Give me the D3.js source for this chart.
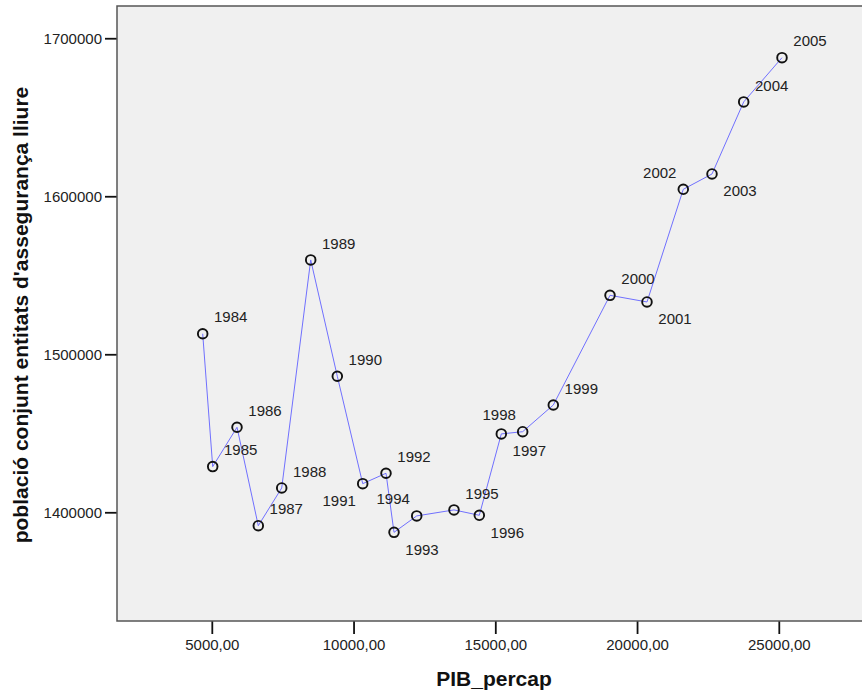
<!DOCTYPE html>
<html><head><meta charset="utf-8">
<script src="https://d3js.org/d3.v7.min.js"></script>
<style>
body{margin:0;background:#fff}
svg{display:block}
text{font-family:"Liberation Sans",Arial,sans-serif}
</style>
</head><body>
<svg id="chart" width="862" height="692"></svg>
<script>
// ---- data ----
const years = [1984,1985,1986,1987,1988,1989,1990,1991,1992,1993,1994,1995,1996,1997,1998,1999,2000,2001,2002,2003,2004,2005];
const pibPercap = [4679,5032,5889,6640,7466,8489,9427,10323,11145,11427,12228,13543,14436,15212,15966,17046,19046,20351,21631,22644,23762,25113];
const poblacio = [1513000,1428900,1453800,1391500,1415400,1559700,1486100,1418100,1424700,1387300,1397700,1401500,1398100,1449600,1451000,1467900,1537300,1533100,1604400,1614100,1659700,1687700];
const labelPlacement = ["NE","NE","NE","NE","NE","NE","NE","SW","NE","SE","NW","NE","SE","SE","NW","NE","NE","SE","NW","SE","NE","NE"];
const xTicks = [5000,10000,15000,20000,25000];
const yTicks = [1400000,1500000,1600000,1700000];
const xTitle = "PIB_percap";
const yTitle = "població conjunt entitats d'assegurança lliure";

// ---- layout ----
const W = 862, H = 692;
const plot = {left:117, top:6, right:862, bottom:621};
const svg = d3.select("#chart");

const x = d3.scaleLinear().domain([1656, 27935]).range([plot.left, plot.right]);
const y = d3.scaleLinear().domain([1331200, 1720400]).range([plot.bottom, plot.top]);

// plot background
svg.append("rect")
  .attr("x", plot.left).attr("y", plot.top)
  .attr("width", plot.right - plot.left).attr("height", plot.bottom - plot.top)
  .attr("fill", "#f0f0f0");

// axes
const fmt = d => d3.format(".2f")(d).replace(".", ",");
const xAxis = svg.append("g").attr("transform", `translate(0,${plot.bottom})`)
  .call(d3.axisBottom(x).tickValues(xTicks).tickFormat(fmt).tickSize(13).tickSizeOuter(0).tickPadding(5));
const yAxis = svg.append("g").attr("transform", `translate(${plot.left},0)`)
  .call(d3.axisLeft(y).tickValues(yTicks).tickFormat(d3.format("d")).tickSize(12).tickSizeOuter(0).tickPadding(3));
[xAxis, yAxis].forEach(a => {
  a.select(".domain").remove();
  a.selectAll(".tick line").attr("stroke", "#111").attr("stroke-width", 1.8);
  a.selectAll(".tick text").attr("fill", "#222").style("font-size", "15px")
    .style("font-family", '"Liberation Sans",Arial,sans-serif');
});

// plot border (left, top, bottom)
svg.append("path")
  .attr("d", `M${plot.right},${plot.top}H${plot.left}V${plot.bottom}H${plot.right}`)
  .attr("fill", "none").attr("stroke", "#555").attr("stroke-width", 1.5);

// connecting line
const pts = years.map((yr, i) => ({year: yr, x: pibPercap[i], y: poblacio[i], pl: labelPlacement[i]}));
svg.append("path")
  .datum(pts)
  .attr("d", d3.line().x(d => x(d.x)).y(d => y(d.y)))
  .attr("fill", "none").attr("stroke", "#7070ff").attr("stroke-width", 1);

// markers
svg.append("g").selectAll("circle").data(pts).join("circle")
  .attr("cx", d => x(d.x)).attr("cy", d => y(d.y)).attr("r", 4.8)
  .attr("fill", "none").attr("stroke", "#111").attr("stroke-width", 1.9);

// point labels
const off = {NE:[28,-16.5], SE:[28,17], SW:[-23.5,17], NW:[-23.5,-17]};
svg.append("g").selectAll("text").data(pts).join("text")
  .attr("x", d => x(d.x) + off[d.pl][0])
  .attr("y", d => y(d.y) + off[d.pl][1])
  .attr("dy", "0.35em")
  .attr("text-anchor", "middle")
  .attr("fill", "#222").style("font-size", "15px")
  .text(d => d.year);

// axis titles
svg.append("text")
  .attr("x", 494).attr("y", 686)
  .attr("text-anchor", "middle")
  .style("font-size", "21px").style("font-weight", "bold").attr("fill", "#111")
  .text(xTitle);
svg.append("text")
  .attr("transform", "translate(28,315) rotate(-90)")
  .attr("text-anchor", "middle")
  .style("font-size", "21px").style("font-weight", "bold").attr("fill", "#111")
  .text(yTitle);
</script>
</body></html>
